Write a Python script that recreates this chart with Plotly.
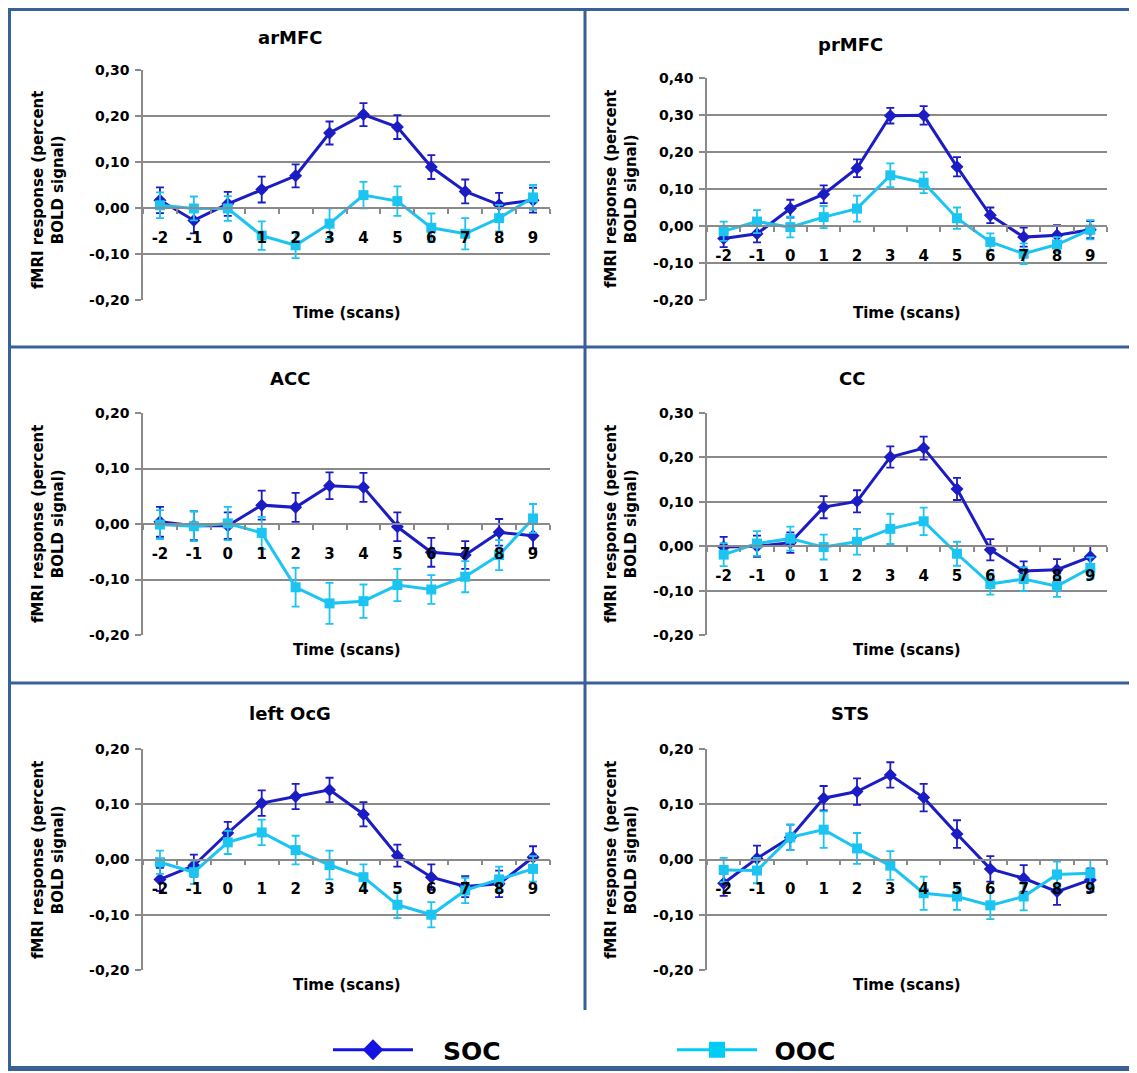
import plotly.graph_objects as go

# page body has an 8px margin: figure is placed at (8, 8) in the window
OFF = 8
W, H = 1137 - OFF, 1073 - OFF

time_scans = [-2, -1, 0, 1, 2, 3, 4, 5, 6, 7, 8, 9]
time_labels = ["-2", "-1", "0", "1", "2", "3", "4", "5", "6", "7", "8", "9"]

regions = ["arMFC", "prMFC", "ACC", "CC", "left OcG", "STS"]

soc_arMFC = [0.017, -0.027, 0.009, 0.040, 0.070, 0.163, 0.203, 0.176, 0.089, 0.036, 0.007, 0.017]
soc_arMFC_err = [0.028, 0.028, 0.026, 0.028, 0.025, 0.025, 0.025, 0.026, 0.026, 0.026, 0.026, 0.027]
ooc_arMFC = [0.006, -0.001, -0.001, -0.060, -0.081, -0.034, 0.028, 0.015, -0.043, -0.056, -0.022, 0.023]
ooc_arMFC_err = [0.028, 0.026, 0.027, 0.031, 0.028, 0.033, 0.029, 0.032, 0.031, 0.034, 0.029, 0.027]

soc_prMFC = [-0.034, -0.021, 0.047, 0.086, 0.156, 0.298, 0.299, 0.160, 0.029, -0.030, -0.025, -0.010]
soc_prMFC_err = [0.023, 0.023, 0.024, 0.024, 0.024, 0.021, 0.025, 0.026, 0.021, 0.026, 0.027, 0.023]
ooc_prMFC = [-0.014, 0.012, -0.003, 0.024, 0.047, 0.137, 0.117, 0.021, -0.043, -0.075, -0.050, -0.010]
ooc_prMFC_err = [0.026, 0.031, 0.028, 0.030, 0.035, 0.032, 0.028, 0.029, 0.023, 0.028, 0.020, 0.026]

soc_ACC = [0.004, -0.003, -0.003, 0.034, 0.030, 0.069, 0.066, -0.005, -0.051, -0.056, -0.015, -0.021]
soc_ACC_err = [0.027, 0.026, 0.024, 0.026, 0.026, 0.024, 0.026, 0.026, 0.026, 0.025, 0.024, 0.023]
ooc_ACC = [-0.001, -0.004, 0.001, -0.016, -0.114, -0.143, -0.139, -0.110, -0.118, -0.095, -0.056, 0.010]
ooc_ACC_err = [0.026, 0.027, 0.030, 0.029, 0.035, 0.037, 0.030, 0.029, 0.026, 0.028, 0.027, 0.026]

soc_CC = [-0.002, 0.000, 0.008, 0.088, 0.101, 0.201, 0.221, 0.129, -0.008, -0.056, -0.053, -0.024]
soc_CC_err = [0.023, 0.024, 0.023, 0.025, 0.025, 0.024, 0.026, 0.025, 0.024, 0.022, 0.024, 0.024]
ooc_CC = [-0.019, 0.006, 0.017, -0.002, 0.010, 0.039, 0.056, -0.017, -0.085, -0.074, -0.090, -0.049]
ooc_CC_err = [0.026, 0.028, 0.027, 0.028, 0.029, 0.034, 0.031, 0.027, 0.024, 0.027, 0.024, 0.024]

soc_OcG = [-0.036, -0.011, 0.048, 0.102, 0.114, 0.126, 0.082, 0.007, -0.032, -0.049, -0.044, 0.004]
soc_OcG_err = [0.021, 0.020, 0.020, 0.023, 0.023, 0.022, 0.022, 0.020, 0.023, 0.019, 0.024, 0.020]
ooc_OcG = [-0.005, -0.023, 0.031, 0.049, 0.017, -0.010, -0.032, -0.082, -0.100, -0.056, -0.036, -0.017]
ooc_OcG_err = [0.021, 0.021, 0.021, 0.023, 0.026, 0.026, 0.023, 0.024, 0.023, 0.023, 0.023, 0.023]

soc_STS = [-0.043, 0.002, 0.040, 0.111, 0.123, 0.153, 0.112, 0.046, -0.017, -0.034, -0.058, -0.037]
soc_STS_err = [0.023, 0.023, 0.023, 0.022, 0.024, 0.023, 0.025, 0.025, 0.023, 0.024, 0.024, 0.021]
ooc_STS = [-0.019, -0.020, 0.040, 0.054, 0.020, -0.011, -0.061, -0.067, -0.083, -0.067, -0.027, -0.025]
ooc_STS_err = [0.022, 0.023, 0.023, 0.033, 0.028, 0.026, 0.030, 0.024, 0.025, 0.025, 0.023, 0.024]

soc_series = [soc_arMFC, soc_prMFC, soc_ACC, soc_CC, soc_OcG, soc_STS]
soc_errors = [soc_arMFC_err, soc_prMFC_err, soc_ACC_err, soc_CC_err, soc_OcG_err, soc_STS_err]
ooc_series = [ooc_arMFC, ooc_prMFC, ooc_ACC, ooc_CC, ooc_OcG, ooc_STS]
ooc_errors = [ooc_arMFC_err, ooc_prMFC_err, ooc_ACC_err, ooc_CC_err, ooc_OcG_err, ooc_STS_err]

y_ranges = [(-0.2, 0.3), (-0.2, 0.4), (-0.2, 0.2), (-0.2, 0.3), (-0.2, 0.2), (-0.2, 0.2)]

# pixel geometry (window coordinates) of each plot area: left, right, top, bottom
boxes = [(143, 550, 70, 300), (707, 1107, 78, 300),
         (143, 550, 413, 635), (707, 1107, 413, 635),
         (143, 550, 749, 970), (707, 1107, 749, 970)]
title_pos = [(290, 38), (850, 45), (290, 378), (852, 378), (290, 713), (850, 713)]
xtitle_y = [313, 313, 650, 650, 985, 985]
ytitle_pos = [(48, 190), (621, 189), (48, 524), (621, 524), (48, 860), (621, 860)]

SOC_COLOR = "#1c1cc4"
OOC_COLOR = "#1cc4f2"
GRID = "#8a8a8a"
FONT = "DejaVu Sans"
BORDER = "#3a6196"


def fx(px):
    return (px - OFF) / W


def fy(py):
    return 1 - (py - OFF) / H


fig = go.Figure()
layout = {}
annotations = []

for i in range(6):
    n = i + 1
    xa = "x" if n == 1 else f"x{n}"
    ya = "y" if n == 1 else f"y{n}"
    l, r, t, b = boxes[i]
    ymin, ymax = y_ranges[i]

    fig.add_trace(go.Scatter(
        x=time_scans, y=soc_series[i], xaxis=xa, yaxis=ya, mode="lines+markers",
        line=dict(color=SOC_COLOR, width=3),
        marker=dict(symbol="diamond", size=10, color=SOC_COLOR),
        error_y=dict(type="data", array=soc_errors[i], color=SOC_COLOR, thickness=1.8, width=4),
        showlegend=False, name="SOC"))
    fig.add_trace(go.Scatter(
        x=time_scans, y=ooc_series[i], xaxis=xa, yaxis=ya, mode="lines+markers",
        line=dict(color=OOC_COLOR, width=3),
        marker=dict(symbol="square", size=10, color=OOC_COLOR),
        error_y=dict(type="data", array=ooc_errors[i], color=OOC_COLOR, thickness=1.8, width=4),
        showlegend=False, name="OOC"))

    ydom = [fy(b), fy(t)]
    zero_pos = ydom[0] + (0 - ymin) / (ymax - ymin) * (ydom[1] - ydom[0])
    yticks = [round(ymin + 0.1 * k, 2) for k in range(int(round((ymax - ymin) / 0.1)) + 1)]
    yticktext = [f"{v:.2f}".replace(".", ",") for v in yticks]
    boundaries = [v - 0.5 for v in time_scans] + [time_scans[-1] + 0.5]

    layout["xaxis" if n == 1 else f"xaxis{n}"] = dict(
        domain=[fx(l), fx(r)], range=[time_scans[0] - 0.5, time_scans[-1] + 0.5],
        anchor="free", position=zero_pos, showgrid=False, zeroline=False,
        showline=True, linecolor=GRID, linewidth=1.5,
        tickmode="array", tickvals=time_scans, ticktext=time_labels, ticks="",
        ticklabelstandoff=16,
        tickfont=dict(family=FONT, size=15, color="black", weight="bold"),
        minor=dict(tickmode="array", tickvals=boundaries, ticks="outside",
                   ticklen=5, tickwidth=1.5, tickcolor=GRID),
        fixedrange=True)
    layout["yaxis" if n == 1 else f"yaxis{n}"] = dict(
        domain=ydom, range=[ymin, ymax], anchor=xa,
        tickmode="array", tickvals=yticks, ticktext=yticktext,
        showgrid=True, gridcolor=GRID, gridwidth=1.5, zeroline=False,
        showline=True, linecolor=GRID, linewidth=1.5,
        ticks="outside", ticklen=6, tickwidth=1.5, tickcolor=GRID,
        ticklabelstandoff=3,
        tickfont=dict(family=FONT, size=14, color="black", weight="bold"),
        fixedrange=True)

    tx, ty = title_pos[i]
    annotations.append(dict(text=regions[i], x=fx(tx), y=fy(ty), xref="paper", yref="paper",
                            showarrow=False, xanchor="center", yanchor="middle",
                            font=dict(family=FONT, size=18, color="black", weight="bold")))
    annotations.append(dict(text="Time (scans)", x=fx((l + r) / 2), y=fy(xtitle_y[i]),
                            xref="paper", yref="paper", showarrow=False,
                            xanchor="center", yanchor="middle",
                            font=dict(family=FONT, size=15, color="black", weight="bold")))
    yx, yy = ytitle_pos[i]
    annotations.append(dict(text="fMRI response (percent<br>BOLD signal)", x=fx(yx), y=fy(yy),
                            xref="paper", yref="paper", showarrow=False, textangle=-90,
                            xanchor="center", yanchor="middle",
                            font=dict(family=FONT, size=15, color="black", weight="bold")))

# legend entries
fig.add_trace(go.Scatter(x=[None], y=[None], mode="lines+markers", name="\u2003SOC",
                         line=dict(color="#1414e0", width=3),
                         marker=dict(symbol="diamond", size=22, color="#1414e0")))
fig.add_trace(go.Scatter(x=[None], y=[None], mode="lines+markers", name="\u2002OOC",
                         line=dict(color="#00ccf5", width=3),
                         marker=dict(symbol="square", size=16, color="#00ccf5")))

shapes = [
    # left, top and bottom frame edges (right edge is cropped off in the original)
    dict(type="line", xref="paper", yref="paper", x0=fx(8.5), x1=fx(8.5), y0=fy(6), y1=fy(1070.5),
         line=dict(color=BORDER, width=5)),
    dict(type="line", xref="paper", yref="paper", x0=fx(6), x1=fx(1137), y0=fy(8.5), y1=fy(8.5),
         line=dict(color=BORDER, width=5)),
    dict(type="line", xref="paper", yref="paper", x0=fx(6), x1=fx(1137), y0=fy(1068.5), y1=fy(1068.5),
         line=dict(color=BORDER, width=5)),
    dict(type="line", xref="paper", yref="paper", x0=fx(585), x1=fx(585), y0=fy(8), y1=fy(1010),
         line=dict(color=BORDER, width=3)),
    dict(type="line", xref="paper", yref="paper", x0=fx(8), x1=fx(1137), y0=fy(347), y1=fy(347),
         line=dict(color=BORDER, width=3)),
    dict(type="line", xref="paper", yref="paper", x0=fx(8), x1=fx(1137), y0=fy(683), y1=fy(683),
         line=dict(color=BORDER, width=3)),
]

fig.update_layout(
    width=W, height=H, margin=dict(l=0, r=0, t=0, b=0, autoexpand=False),
    paper_bgcolor="white", plot_bgcolor="white",
    annotations=annotations, shapes=shapes,
    legend=dict(orientation="h", x=fx(328), y=fy(1050), xanchor="left", yanchor="middle",
                itemwidth=80, entrywidth=249, entrywidthmode="pixels",
                font=dict(family=FONT, size=25, color="black", weight="bold"),
                bgcolor="rgba(0,0,0,0)"),
    **layout)

fig.write_html("out.html")
